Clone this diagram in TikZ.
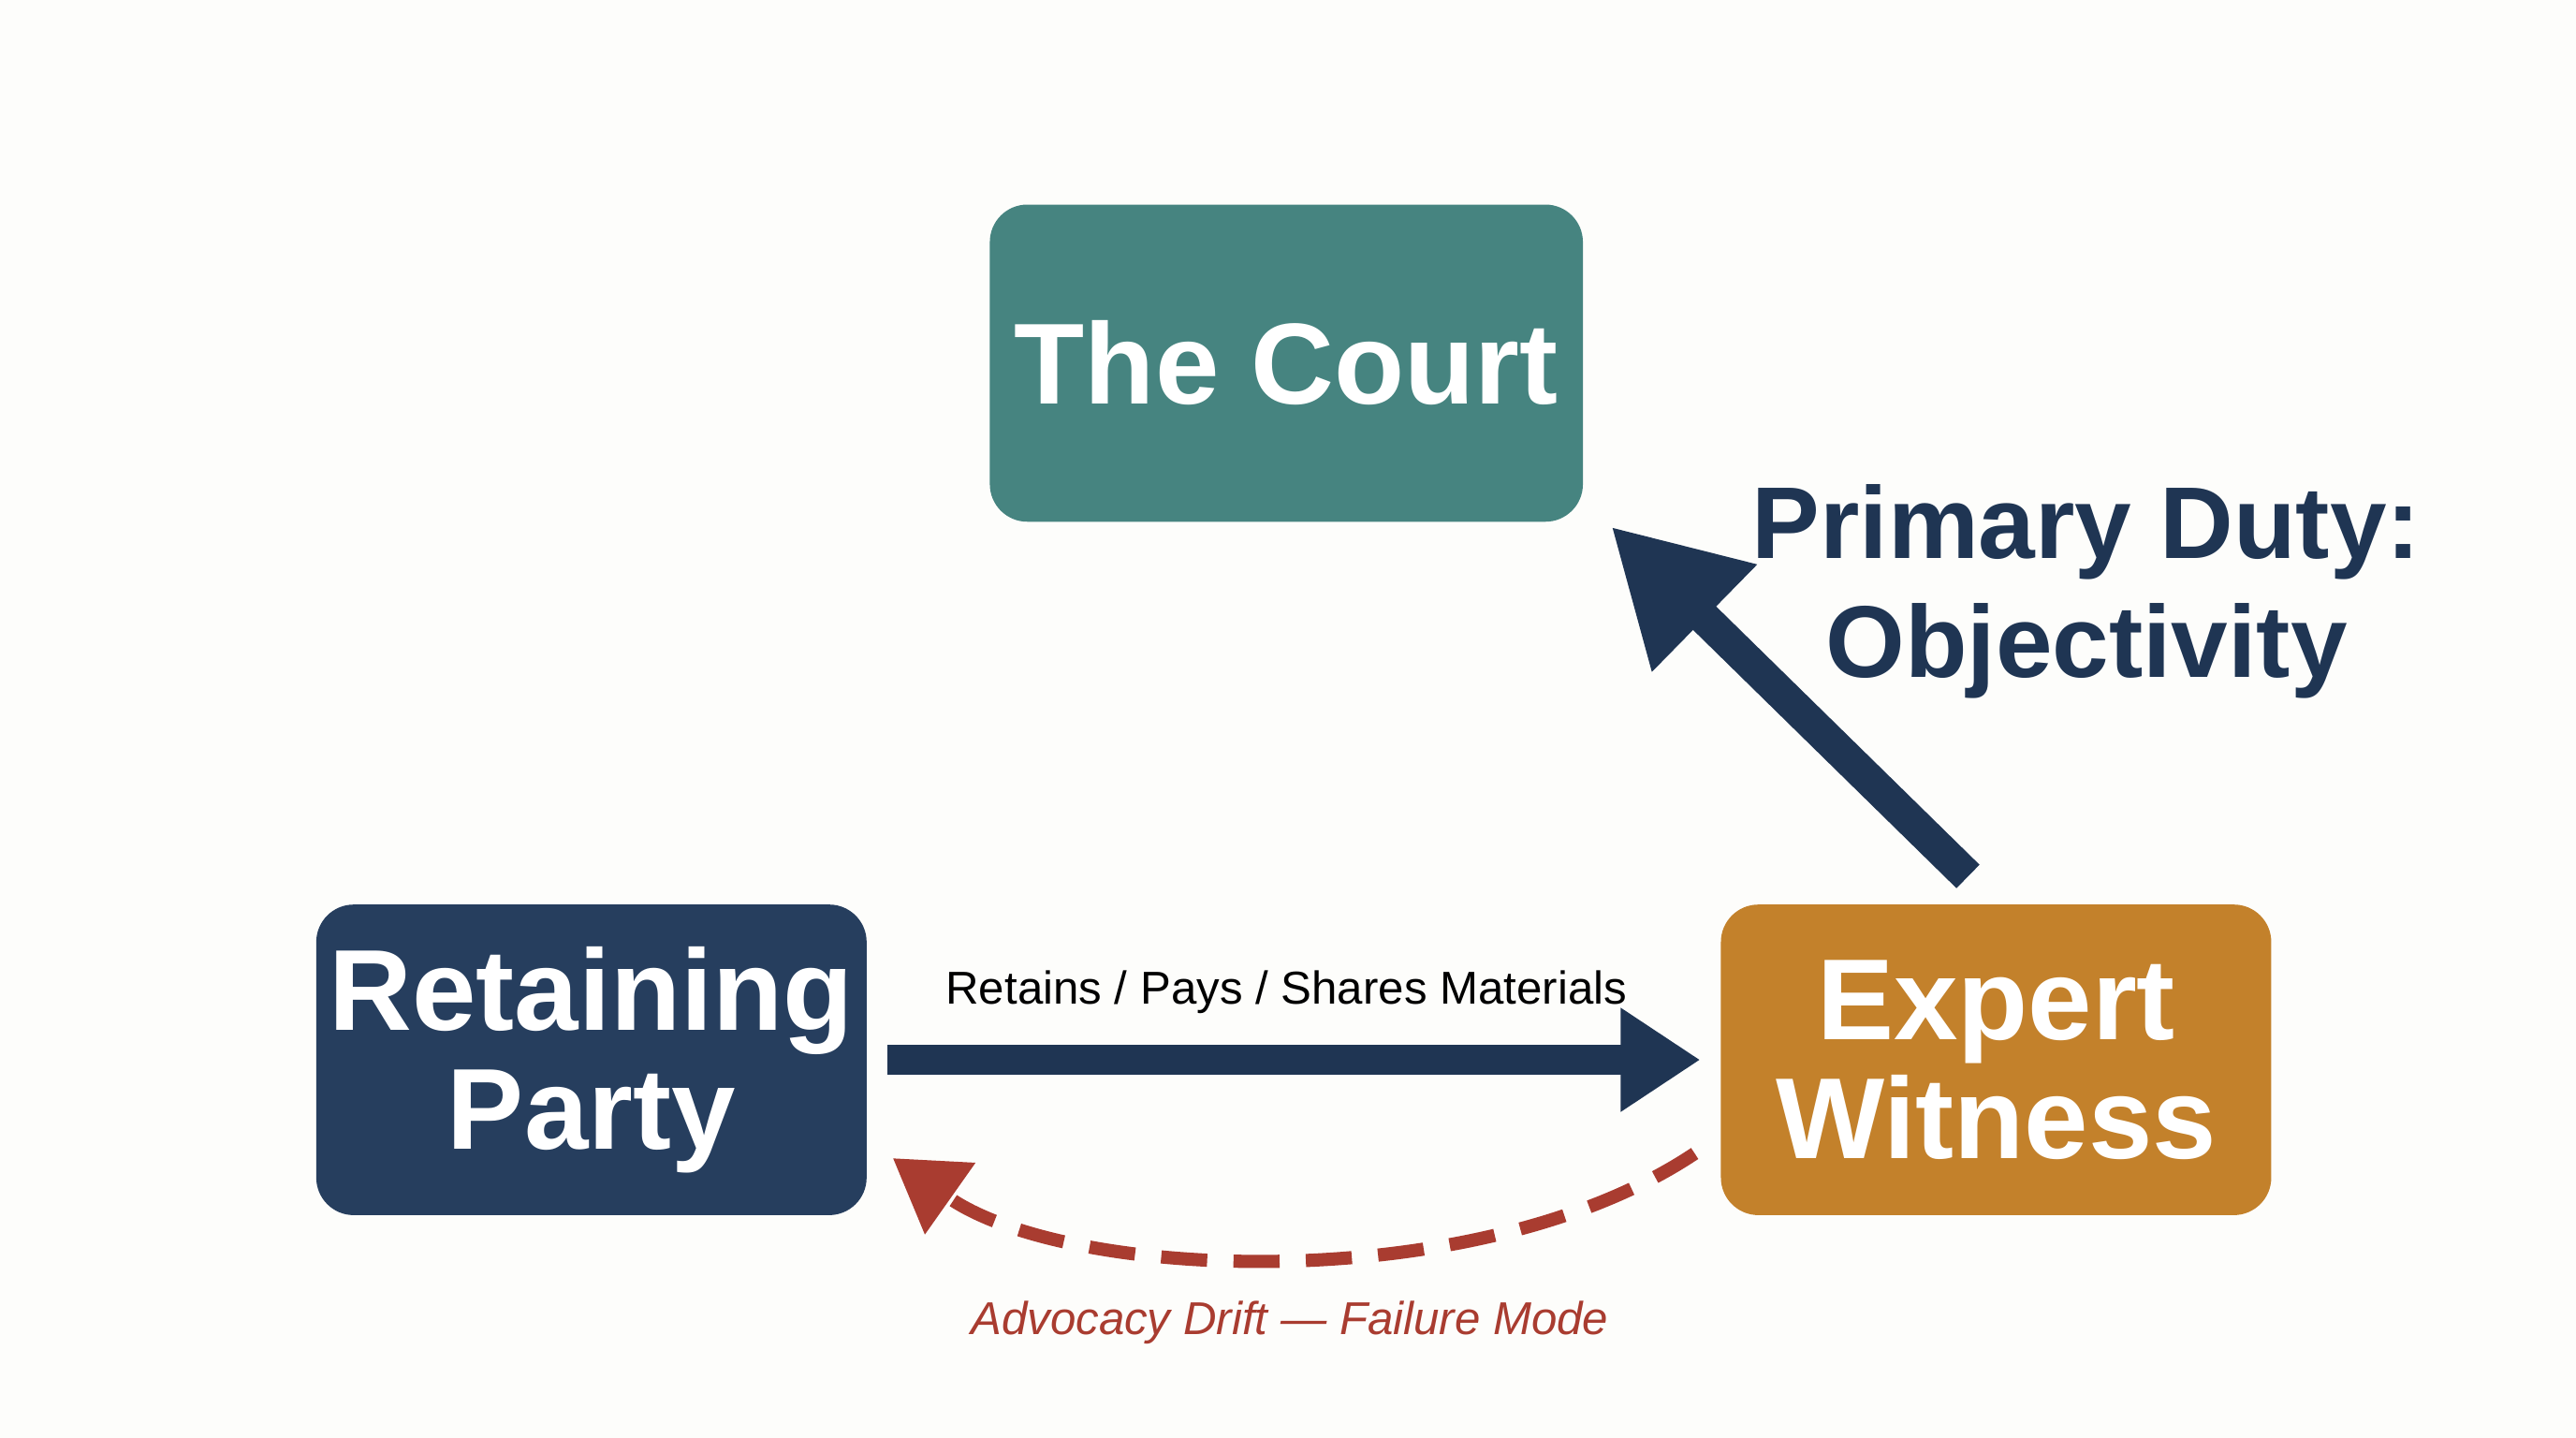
\documentclass[tikz,border=0pt]{standalone}
\usepackage{fontspec}
\setmainfont{Liberation Sans}
\usetikzlibrary{arrows.meta}
\definecolor{courtteal}{HTML}{468480}
\definecolor{partynavy}{HTML}{263E5E}
\definecolor{expertgold}{HTML}{C3812B}
\definecolor{arrownavy}{HTML}{1F3553}
\definecolor{driftred}{HTML}{A93C30}
\definecolor{paper}{HTML}{FDFDFB}
\begin{document}
\begin{tikzpicture}[x=0.01755cm, y=-0.01755cm]
\tikzset{ >=latex, inner sep=0pt, outer sep=0pt,
  box/.style={rounded corners=0.4cm, text=white, font=\bfseries\fontsize{35}{40}\selectfont, align=center},
}

\fill [paper] (0,0) rectangle (1568,875);

\node [box, fill=courtteal, minimum width=361*0.01755cm, minimum height=193*0.01755cm] (C) at (783,221) {The Court};
\node [box, fill=partynavy, minimum width=335*0.01755cm, minimum height=189*0.01755cm] (R) at (360,645) {Retaining\\[-4pt]Party};
\node [box, fill=expertgold, minimum width=335*0.01755cm, minimum height=189*0.01755cm] (E) at (1215,645) {Expert\\[-4pt]Witness};

\draw [arrownavy, line width=10pt, -{Triangle[length=1.4cm, width=1.5cm]}]
  ([xshift=-0.3cm, yshift=0.3cm]E.north) -- ([xshift=0.3cm, yshift=-0.05cm]C.south east);
\draw [arrownavy, line width=9pt, -{Triangle[length=0.85cm, width=1.05cm]}]
  ([xshift=0.22cm]R.east) -- ([xshift=-0.22cm]E.east -| E.west);
\draw [driftred, line width=4pt, dash pattern=on 14pt off 8pt, -{Triangle[length=0.75cm, width=0.9cm]}]
  ([xshift=-0.28cm, yshift=-1.0cm]E.west) .. controls (900,790) and (650,780) .. ([xshift=0.28cm, yshift=-1.05cm]R.east);

\node [text=arrownavy, font=\bfseries\fontsize{31}{36}\selectfont, align=center] (P) at (1270,360) {Primary Duty:\\Objectivity};
\node [text=black, font=\fontsize{14}{16}\selectfont] (RL) at (783,604) {Retains / Pays / Shares Materials};
\node [text=driftred, font=\itshape\fontsize{14}{16}\selectfont] (AL) at (785,805) {Advocacy Drift — Failure Mode};

\end{tikzpicture}
\end{document}
